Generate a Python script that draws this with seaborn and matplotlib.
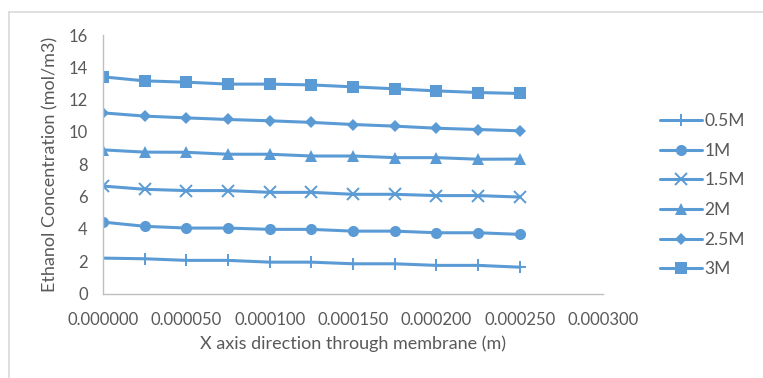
import matplotlib
matplotlib.use("Agg")
import matplotlib.pyplot as plt
import matplotlib.ticker as mticker
import seaborn as sns
import pandas as pd

# Position through the membrane (m)
x_pos = [0.0, 0.000025, 0.00005, 0.000075, 0.0001, 0.000125,
         0.00015, 0.000175, 0.0002, 0.000225, 0.00025]

# Ethanol concentration (mol/m3) for each feed concentration
c_05 = [2.19, 2.15, 2.05, 2.05, 1.94, 1.94, 1.84, 1.84, 1.74, 1.74, 1.63]
c_1 = [4.42, 4.16, 4.05, 4.05, 3.97, 3.97, 3.86, 3.86, 3.76, 3.76, 3.66]
c_15 = [6.65, 6.45, 6.37, 6.37, 6.26, 6.26, 6.14, 6.14, 6.06, 6.06, 5.97]
c_2 = [8.89, 8.75, 8.74, 8.62, 8.62, 8.51, 8.51, 8.41, 8.41, 8.31, 8.32]
c_25 = [11.18, 10.98, 10.87, 10.77, 10.69, 10.59, 10.46, 10.36, 10.23, 10.15, 10.07]
c_3 = [13.41, 13.16, 13.08, 12.96, 12.96, 12.91, 12.79, 12.67, 12.54, 12.44, 12.38]

series_labels = ["0.5M", "1M", "1.5M", "2M", "2.5M", "3M"]
series_values = [c_05, c_1, c_15, c_2, c_25, c_3]

x_ticks = [0.0, 0.00005, 0.0001, 0.00015, 0.0002, 0.00025, 0.0003]
y_ticks = [0, 2, 4, 6, 8, 10, 12, 14, 16]

df = pd.concat(
    [pd.DataFrame({"x": x_pos, "conc": vals, "series": lab})
     for lab, vals in zip(series_labels, series_values)],
    ignore_index=True,
)

sns.set_theme(style="white")
plt.rcParams["font.family"] = ["Lato", "DejaVu Sans"]

blue = "#5B9BD5"
text_grey = "#595959"
axis_grey = "#BFBFBF"

fig = plt.figure(figsize=(7.63, 3.78), dpi=100)
ax = fig.add_axes([103 / 763, 1 - 293.5 / 378, 500 / 763, (293.5 - 35) / 378])

markers = {"0.5M": "+", "1M": "o", "1.5M": "x", "2M": "^", "2.5M": "D", "3M": "s"}
sizes = {"0.5M": 9, "1M": 8, "1.5M": 8, "2M": 8, "2.5M": 6.5, "3M": 8}

for lab in series_labels:
    sub = df[df["series"] == lab]
    m = markers[lab]
    thin = m in ("+", "x")
    sns.lineplot(
        data=sub, x="x", y="conc", ax=ax, color=blue, linewidth=2.2,
        marker=m, markersize=sizes[lab],
        markeredgewidth=1.4 if thin else 0,
        markeredgecolor=blue, markerfacecolor=blue,
        label=lab, estimator=None, sort=False,
    )

ax.set_xlim(0, 0.0003)
ax.set_ylim(0, 16)
ax.set_xticks(x_ticks)
ax.set_yticks(y_ticks)
ax.xaxis.set_major_formatter(mticker.FuncFormatter(lambda v, p: f"{v:.6f}"))
ax.tick_params(axis="both", length=0, labelsize=12, colors=text_grey)
ax.tick_params(axis="x", pad=13)
ax.tick_params(axis="y", pad=11)

for side in ("top", "right"):
    ax.spines[side].set_visible(False)
for side in ("left", "bottom"):
    ax.spines[side].set_color(axis_grey)
    ax.spines[side].set_linewidth(1.0)

ax.set_xlabel("X axis direction through membrane (m)", fontsize=13,
              color=text_grey, labelpad=6)
ax.set_ylabel("Ethanol Concentration (mol/m3)", fontsize=13,
              color=text_grey, labelpad=7)

leg = ax.legend(loc="center left", bbox_to_anchor=(1.1, 0.38), frameon=False,
                fontsize=12.5, labelspacing=0.78, handlelength=2.4,
                handletextpad=0.15, borderaxespad=0)
for t in leg.get_texts():
    t.set_color(text_grey)

# Chart-area border (left and top edges)
fig.add_artist(plt.Line2D([9 / 763, 9 / 763], [0, 1 - 12 / 378],
                          transform=fig.transFigure, color="#D9D9D9", linewidth=1.2))
fig.add_artist(plt.Line2D([9 / 763, 1], [1 - 12 / 378, 1 - 12 / 378],
                          transform=fig.transFigure, color="#D9D9D9", linewidth=1.2))

fig.savefig("out.png", dpi=100)
